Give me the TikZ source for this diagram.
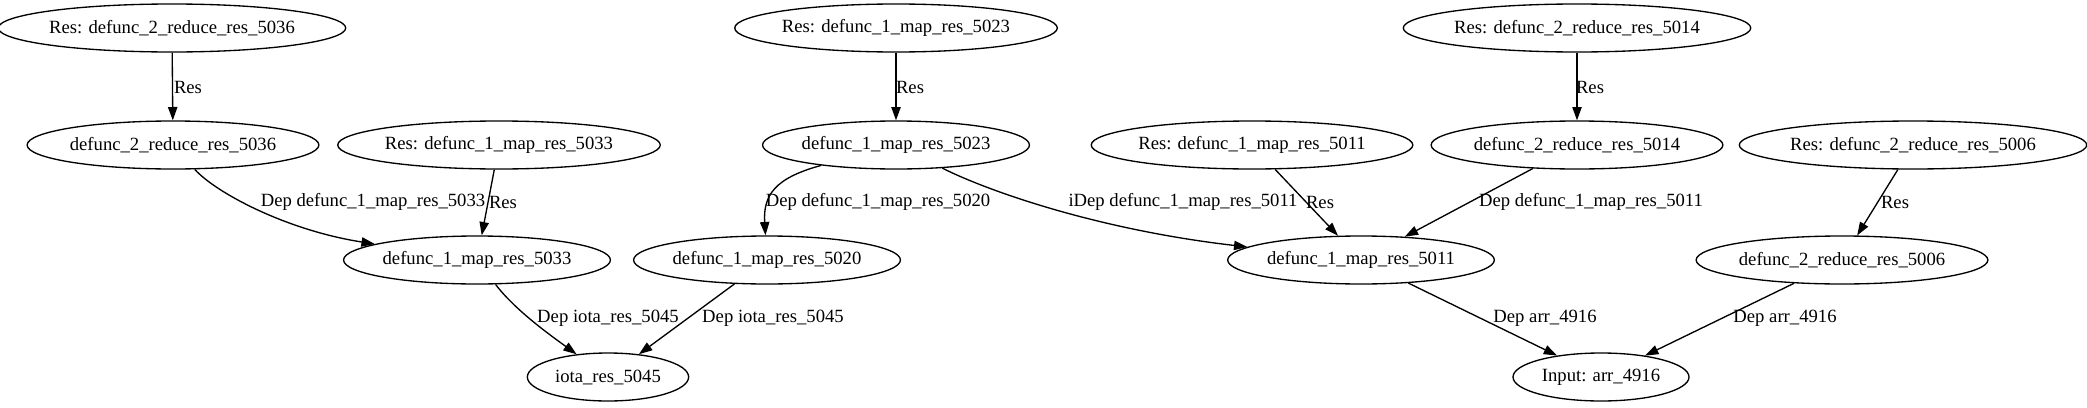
\documentclass[tikz,border=0pt]{standalone}
\usepackage{fontspec}
\setmainfont{Liberation Serif}
\usetikzlibrary{arrows.meta,shapes.geometric}

\begin{document}
\begin{tikzpicture}[
    x=0.75pt, y=-0.75pt,
    font=\fontsize{14}{17}\selectfont,
    gnode/.style={ellipse, draw, line width=1pt, minimum width=#1, minimum height=36pt, inner sep=0pt},
    dep edge/.style={line width=1pt, -{Triangle[length=10pt, width=7pt]}},
    edge label/.style={inner sep=0pt}
]
\useasboundingbox (0,0) rectangle (2087,407);

% Top row: results
\node[gnode=255pt] (r5036) at (172,28) {Res: defunc\_2\_reduce\_res\_5036};
\node[gnode=236pt] (r5023) at (896,28) {Res: defunc\_1\_map\_res\_5023};
\node[gnode=252pt] (r5014) at (1577,28) {Res: defunc\_2\_reduce\_res\_5014};

% Second row
\node[gnode=216pt] (d5036) at (173,145) {defunc\_2\_reduce\_res\_5036};
\node[gnode=236pt] (r5033) at (499,145) {Res: defunc\_1\_map\_res\_5033};
\node[gnode=200pt] (m5023) at (896,145) {defunc\_1\_map\_res\_5023};
\node[gnode=236pt] (r5011) at (1252,145) {Res: defunc\_1\_map\_res\_5011};
\node[gnode=215pt] (d5014) at (1577,145) {defunc\_2\_reduce\_res\_5014};
\node[gnode=255pt] (r5006) at (1913,145) {Res: defunc\_2\_reduce\_res\_5006};

% Third row
\node[gnode=200pt] (m5033) at (477,260) {defunc\_1\_map\_res\_5033};
\node[gnode=200pt] (m5020) at (767,260) {defunc\_1\_map\_res\_5020};
\node[gnode=200pt] (m5011) at (1361,260) {defunc\_1\_map\_res\_5011};
\node[gnode=215pt] (d5006) at (1842,260) {defunc\_2\_reduce\_res\_5006};

% Bottom row: inputs
\node[gnode=121pt] (iota) at (608,377) {iota\_res\_5045};
\node[gnode=132pt] (input) at (1601,377) {Input: arr\_4916};

% Edges
\draw[dep edge] (r5036) -- (d5036) node[edge label] at (188,87) {Res};
\draw[dep edge] (r5023) -- (m5023) node[edge label] at (910,87) {Res};
\draw[dep edge] (r5014) -- (d5014) node[edge label] at (1590,87) {Res};

\draw[dep edge] (d5036) .. controls (215,192) and (285,230) .. (m5033) node[edge label] at (373,202) {Dep defunc\_1\_map\_res\_5033};
\draw[dep edge] (r5033) -- (m5033) node[edge label] at (503,202) {Res};
\draw[dep edge] (m5023) .. controls (775,178) and (763,195) .. (m5020) node[edge label] at (878,202) {Dep defunc\_1\_map\_res\_5020};
\draw[dep edge] (m5023) .. controls (990,192) and (1100,230) .. (m5011) node[edge label] at (1183,202) {iDep defunc\_1\_map\_res\_5011};
\draw[dep edge] (r5011) -- (m5011) node[edge label] at (1320,202) {Res};
\draw[dep edge] (d5014) -- (m5011) node[edge label] at (1591,202) {Dep defunc\_1\_map\_res\_5011};
\draw[dep edge] (r5006) -- (d5006) node[edge label] at (1895,202) {Res};

\draw[dep edge] (m5033) .. controls (515,310) and (550,335) .. (iota) node[edge label] at (608,318) {Dep iota\_res\_5045};
\draw[dep edge] (m5020) -- (iota) node[edge label] at (773,318) {Dep iota\_res\_5045};
\draw[dep edge] (m5011) -- (input) node[edge label] at (1545,318) {Dep arr\_4916};
\draw[dep edge] (d5006) -- (input) node[edge label] at (1785,318) {Dep arr\_4916};

\end{tikzpicture}
\end{document}
